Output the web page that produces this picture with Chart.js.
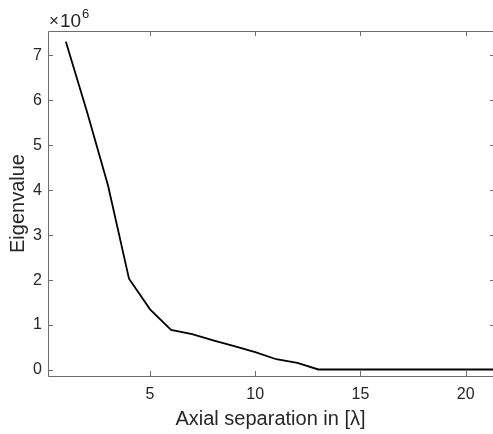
<!DOCTYPE html>
<html>
<head>
<meta charset="utf-8">
<script src="https://cdn.jsdelivr.net/npm/chart.js@4/dist/chart.umd.min.js"></script>
<style>
  html, body { margin: 0; padding: 0; background: #fff; }
  #wrap { width: 493px; height: 434px; position: relative; }
</style>
</head>
<body>
<div id="wrap"><canvas id="lineChart"></canvas></div>
<script>
var separation = [1, 2, 3, 4, 5, 6, 7, 8, 9, 10, 11, 12, 13, 14, 15, 16, 17, 18, 19, 20, 21, 21.3];
var eigenvalues = [7.30e6, 5.75e6, 4.11e6, 2.03e6, 1.35e6, 0.89e6, 0.80e6, 0.66e6, 0.53e6, 0.40e6,
                   0.24e6, 0.16e6, 0.012e6, 0.012e6, 0.012e6, 0.012e6, 0.012e6, 0.012e6, 0.012e6, 0.012e6, 0.012e6, 0.012e6];
var xTicks = [5, 10, 15, 20];
var yTicks = [0, 1e6, 2e6, 3e6, 4e6, 5e6, 6e6, 7e6];

var axisColor = '#6e6e6e';
var textColor = '#262626';
var fontFamily = '"Liberation Sans", Arial, sans-serif';

var points = separation.map(function (x, i) { return {x: x, y: eigenvalues[i]}; });

// box + inward ticks, MATLAB style
var matlabAxes = {
    id: 'matlabAxes',
    afterDatasetsDraw: function (chart) {
        var ctx = chart.ctx, a = chart.chartArea;
        var xs = chart.scales.x, ys = chart.scales.y;
        ctx.save();
        ctx.strokeStyle = axisColor;
        ctx.lineWidth = 1;
        ctx.beginPath();
        ctx.moveTo(a.right + 2, a.bottom + 0.5);
        ctx.lineTo(a.left + 0.5, a.bottom + 0.5);
        ctx.lineTo(a.left + 0.5, a.top + 0.5);
        ctx.lineTo(a.right + 2, a.top + 0.5);
        xTicks.forEach(function (v) {
            var px = Math.round(xs.getPixelForValue(v)) + 0.5;
            ctx.moveTo(px, a.bottom); ctx.lineTo(px, a.bottom - 5);
            ctx.moveTo(px, a.top); ctx.lineTo(px, a.top + 5);
        });
        yTicks.forEach(function (v) {
            var py = Math.round(ys.getPixelForValue(v)) + 0.5;
            ctx.moveTo(a.left, py); ctx.lineTo(a.left + 5, py);
            ctx.moveTo(a.right, py); ctx.lineTo(a.right - 3, py);
        });
        ctx.stroke();
        // exponent label
        ctx.fillStyle = textColor;
        ctx.textBaseline = 'alphabetic';
        ctx.textAlign = 'left';
        ctx.font = '17px ' + fontFamily;
        ctx.fillText('\u00d7', a.left + 1, a.top - 5);
        ctx.font = '19px ' + fontFamily;
        ctx.fillText('10', a.left + 12, a.top - 4);
        ctx.font = '13px ' + fontFamily;
        ctx.fillText('6', a.left + 34, a.top - 13);
        ctx.restore();
    }
};

var ctx = document.getElementById("lineChart").getContext("2d");
new Chart(ctx, {
    type: 'line',
    data: {
        datasets: [{
            label: 'Eigenvalue',
            data: points,
            borderColor: '#000',
            borderWidth: 1.8,
            pointRadius: 0,
            fill: false,
            tension: 0
        }]
    },
    options: {
        responsive: true,
        maintainAspectRatio: false,
        animation: false,
        layout: { padding: { top: 31, right: 0, left: 0, bottom: 0 } },
        plugins: { legend: { display: false }, tooltip: { enabled: false } },
        scales: {
            x: {
                type: 'linear',
                min: 0.15,
                max: 21.3,
                afterBuildTicks: function (s) { s.ticks = xTicks.map(function (v) { return {value: v}; }); },
                afterFit: function (s) { s.height = 58; },
                grid: { display: false, drawTicks: false },
                border: { display: false },
                ticks: {
                    color: textColor,
                    padding: 9,
                    maxRotation: 0,
                    font: { size: 16, family: fontFamily }
                },
                title: {
                    display: true,
                    text: 'Axial separation in [\u03bb]',
                    color: textColor,
                    padding: { top: 0, bottom: 3 },
                    font: { size: 20, family: fontFamily }
                }
            },
            y: {
                min: -0.133e6,
                max: 7.54e6,
                afterBuildTicks: function (s) { s.ticks = yTicks.map(function (v) { return {value: v}; }); },
                afterFit: function (s) { s.width = 48; },
                grid: { display: false, drawTicks: false },
                border: { display: false },
                ticks: {
                    color: textColor,
                    padding: 6,
                    font: { size: 16, family: fontFamily },
                    callback: function (v) { return String(Math.round(v / 1e6)); }
                },
                title: {
                    display: true,
                    text: 'Eigenvalue',
                    color: textColor,
                    padding: { top: 6, bottom: 0 },
                    font: { size: 20, family: fontFamily }
                }
            }
        }
    },
    plugins: [matlabAxes]
});
</script>
</body>
</html>
